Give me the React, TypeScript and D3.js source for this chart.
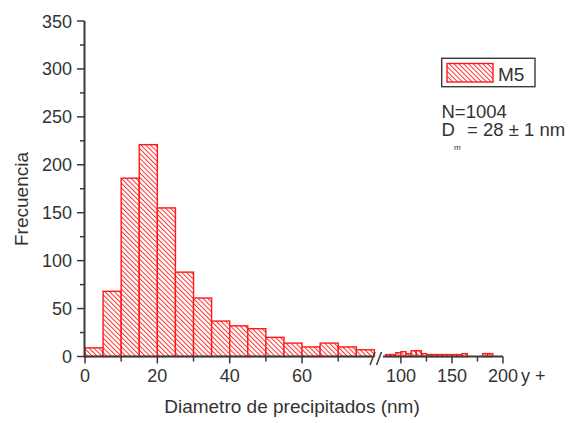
import React from "react";
import * as d3 from "d3";

const mainStarts = [0, 5, 10, 15, 20, 25, 30, 35, 40, 45, 50, 55, 60, 65, 70, 75];
const mainCounts = [9, 68, 186, 221, 155, 88, 61, 37, 32, 29, 20, 14, 10, 14, 10, 7];
const tailStarts = [85, 90, 95, 100, 105, 110, 115, 120, 125, 130, 135, 140, 145, 150, 155, 160, 165, 170, 175, 180, 185, 190, 195];
const tailCounts = [2, 2, 4, 5, 3, 6, 6, 3, 2, 2, 2, 2, 2, 2, 2, 3, 0, 0, 0, 3, 3, 0, 0];
const binWidth = 5;

const yMajor = [0, 50, 100, 150, 200, 250, 300, 350];
const yMinor = [25, 75, 125, 175, 225, 275, 325];
const xMainMajor = [0, 20, 40, 60];
const xMainMinor = [10, 30, 50, 70];
const xTailMajor = [100, 150, 200];
const xTailMinor = [125, 175];

const seriesName = "M5";
const nText = "N=1004";

const FONT = "'Liberation Sans', Arial, sans-serif";
const AXIS = "#3a3a3a";
const TXT = "#333";
const RED = "#ff1a1a";

export default function App() {
  const xMain = d3.scaleLinear().domain([0, 80]).range([85, 374.4]);
  const xTail = d3.scaleLinear().domain([80, 200]).range([380.5, 503]);
  const y = d3.scaleLinear().domain([0, 350]).range([356.5, 21]);
  const y0 = y(0);

  const bar = (x: d3.ScaleLinear<number, number>, s: number, c: number, k: string) =>
    c > 0 ? (
      <rect
        key={k}
        x={x(s)}
        y={y(c)}
        width={x(s + binWidth) - x(s)}
        height={y0 - y(c)}
        fill="url(#hatch)"
        stroke={RED}
        strokeWidth={1.4}
      />
    ) : null;

  return (
    <svg width={577} height={423} style={{ position: "absolute", left: 0, top: 0, background: "#fff" }} fontFamily={FONT}>
      <defs>
        <pattern id="hatch" patternUnits="userSpaceOnUse" width={3.4} height={3.4} patternTransform="rotate(-45)">
          <rect width={3.4} height={3.4} fill="#fff" />
          <line x1={0.5} y1={0} x2={0.5} y2={3.4} stroke={RED} strokeWidth={0.9} />
        </pattern>
      </defs>
      <rect width={577} height={423} fill="#fff" />

      {mainStarts.map((s, i) => bar(xMain, s, mainCounts[i], "m" + i))}
      {tailStarts.map((s, i) => bar(xTail, s, tailCounts[i], "t" + i))}

      {/* y axis */}
      <line x1={84.5} x2={84.5} y1={y(0) + 1} y2={y(350)} stroke={AXIS} strokeWidth={2} />
      {yMajor.map((v) => (
        <g key={"ym" + v}>
          <line x1={77} x2={84.5} y1={y(v)} y2={y(v)} stroke={AXIS} strokeWidth={1.5} />
          <text x={72} y={y(v) + 6.5} textAnchor="end" fontSize={18} fill={TXT}>{v}</text>
        </g>
      ))}
      {yMinor.map((v) => (
        <line key={"yn" + v} x1={80} x2={84.5} y1={y(v)} y2={y(v)} stroke={AXIS} strokeWidth={1.5} />
      ))}

      {/* x axis main */}
      <line x1={84} x2={372} y1={y0} y2={y0} stroke={AXIS} strokeWidth={2} />
      {xMainMajor.map((v) => (
        <g key={"xm" + v}>
          <line x1={xMain(v)} x2={xMain(v)} y1={y0} y2={y0 + 7} stroke={AXIS} strokeWidth={1.5} />
          <text x={xMain(v)} y={382} textAnchor="middle" fontSize={18} fill={TXT}>{v}</text>
        </g>
      ))}
      {xMainMinor.map((v) => (
        <line key={"xn" + v} x1={xMain(v)} x2={xMain(v)} y1={y0} y2={y0 + 5} stroke={AXIS} strokeWidth={1.5} />
      ))}

      {/* x axis tail */}
      <line x1={383} x2={503} y1={y0} y2={y0} stroke={AXIS} strokeWidth={2} />
      {xTailMajor.map((v) => (
        <g key={"xt" + v}>
          <line x1={xTail(v)} x2={xTail(v)} y1={y0} y2={y0 + 7} stroke={AXIS} strokeWidth={1.5} />
          <text x={xTail(v)} y={382} textAnchor="middle" fontSize={18} fill={TXT}>{v}</text>
        </g>
      ))}
      {xTailMinor.map((v) => (
        <line key={"xtn" + v} x1={xTail(v)} x2={xTail(v)} y1={y0} y2={y0 + 5} stroke={AXIS} strokeWidth={1.5} />
      ))}
      <text x={521} y={382} fontSize={18} fill={TXT}>y +</text>

      {/* break marks */}
      <line x1={370} y1={365} x2={375} y2={352} stroke={AXIS} strokeWidth={1.5} />
      <line x1={376.5} y1={365} x2={381.5} y2={352} stroke={AXIS} strokeWidth={1.5} />

      {/* axis titles */}
      <text x={292} y={413} textAnchor="middle" fontSize={19} fill={TXT}>Diametro de precipitados (nm)</text>
      <text transform="translate(28,199) rotate(-90)" textAnchor="middle" fontSize={19} fill={TXT}>Frecuencia</text>

      {/* legend */}
      <rect x={441.7} y={58.3} width={93.3} height={28.4} fill="#fff" stroke={AXIS} strokeWidth={1.4} />
      <rect x={447} y={63.5} width={46} height={18.5} fill="url(#hatch)" stroke={RED} strokeWidth={1.4} />
      <text x={498} y={80.5} fontSize={19} fill={TXT}>{seriesName}</text>

      <text x={441.5} y={118.3} fontSize={18.5} fill={TXT}>
        <tspan x={441.5}>{nText}</tspan>
        <tspan x={441.5} dy={17.2}>D</tspan>
        <tspan x={454} dy={14.5} fontSize={8}>m</tspan>
        <tspan x={467} dy={-14.5}>= 28 ± 1 nm</tspan>
      </text>
    </svg>
  );
}
